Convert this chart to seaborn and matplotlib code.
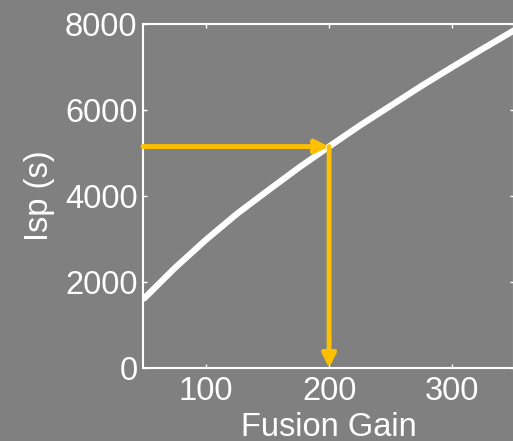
import matplotlib
matplotlib.use("Agg")
import matplotlib.pyplot as plt
import seaborn as sns
import pandas as pd

# Specific impulse versus fusion gain
gain = [50, 75, 100, 125, 150, 175, 200, 225, 250, 275, 300, 325, 350]
isp = [1620, 2330, 2980, 3580, 4120, 4650, 5150, 5640, 6100, 6560, 7000, 7430, 7850]

# Design point highlighted by the arrows
design_gain = 200
design_isp = 5150

x_ticks = [100, 200, 300]
y_ticks = [0, 2000, 4000, 6000, 8000]

bg = "#808080"
gold = "#FFC000"

sns.set_style("ticks")
plt.rcParams["font.family"] = ["Liberation Sans", "DejaVu Sans"]

fig = plt.figure(figsize=(5.13, 4.41), dpi=100, facecolor=bg)
ax = fig.add_axes([143 / 513, (441 - 368) / 441, (514 - 143) / 513, (368 - 24) / 441])
ax.set_facecolor(bg)

df = pd.DataFrame({"gain": gain, "isp": isp})
sns.lineplot(data=df, x="gain", y="isp", ax=ax, color="white", linewidth=4.5)

ax.set_xlim(49, 350)
ax.set_ylim(0, 8000)
ax.set_xticks(x_ticks)
ax.set_yticks(y_ticks)

arrow = dict(arrowstyle="-|>,head_length=0.8,head_width=0.4", color=gold, lw=3.5,
             shrinkA=0, shrinkB=0)
ax.annotate("", xy=(design_gain, design_isp), xytext=(ax.get_xlim()[0], design_isp),
            arrowprops=arrow, zorder=4)
ax.annotate("", xy=(design_gain, 0), xytext=(design_gain, design_isp),
            arrowprops=arrow, zorder=4)

for side in ["left", "bottom", "top", "right"]:
    ax.spines[side].set_visible(True)
    ax.spines[side].set_color("white")
    ax.spines[side].set_linewidth(1.5)

fs = 23.5
ax.tick_params(axis="both", which="both", direction="in", length=3, width=1,
               color="white", labelcolor="white", labelsize=fs,
               top=True, right=True)
ax.tick_params(axis="x", pad=6)
ax.tick_params(axis="y", pad=4)

ax.set_xlabel("Fusion Gain", color="white", fontsize=fs, labelpad=3)
ax.set_ylabel("Isp (s)", color="white", fontsize=fs, labelpad=7)

fig.savefig("out.png", dpi=100, facecolor=bg)
